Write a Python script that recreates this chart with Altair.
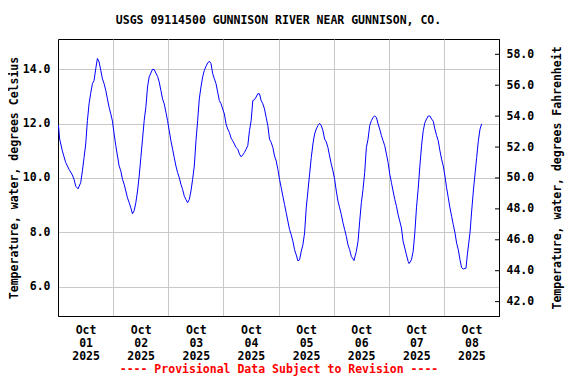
import altair as alt
import pandas as pd

TITLE = "USGS 09114500 GUNNISON RIVER NEAR GUNNISON, CO."
FOOT = "---- Provisional Data Subject to Revision ----"
Y_TITLE_C = "Temperature, water, degrees Celsius"
Y_TITLE_F = "Temperature, water, degrees Fahrenheit"

# hours since 2025-10-01 00:00 (local)
hours = [
    0.2, 0.73, 1.89, 3.34, 4.8, 6.25, 6.98, 7.71, 8.73, 9.89, 10.62, 11.34, 12.07, 12.8, 13.53, 14.25,
    14.98, 15.71, 16.43, 17.16, 17.89, 18.62, 19.34, 20.07, 20.8, 21.52, 22.25, 22.98, 23.71, 24.43,
    25.16, 25.89, 26.62, 27.34, 28.07, 28.8, 29.52, 30.25, 30.98, 31.71, 32.43, 33.16, 33.89, 34.62,
    35.34, 36.07, 36.8, 37.52, 38.25,
    38.98, 39.70, 40.43, 41.16, 41.89, 42.61, 43.34, 44.07, 44.8, 45.52, 46.25, 46.98, 47.7, 48.43,
    49.16, 49.89, 50.61, 51.34, 52.07, 52.8, 53.52, 54.25, 54.98, 55.7, 56.43, 57.16, 57.89, 58.61,
    59.34, 60.07, 60.8, 61.52, 62.25, 62.98, 63.7, 64.43, 65.16, 65.89, 66.61, 67.34, 68.07, 68.8,
    69.52, 70.25, 70.98, 71.7, 72.43, 73.16, 73.89, 74.61, 75.34, 76.07, 76.8, 77.52,
    78.27, 79.0, 79.72, 80.45, 81.18, 81.9, 82.63, 83.36, 84.09, 84.81, 85.54, 86.27, 86.99, 87.72,
    88.45, 89.18, 89.9, 90.63, 91.36, 92.08, 92.81, 93.54, 94.27, 94.99, 95.72, 96.45, 97.18, 97.9,
    98.63, 99.36, 100.08, 100.81, 101.54, 102.27, 102.99, 103.72, 104.45, 105.18, 105.9, 106.63,
    107.36, 108.08, 108.81, 109.54, 110.27, 110.99, 111.72, 112.45, 113.18, 113.9, 114.63, 115.36,
    116.08, 116.8,
    117.53, 118.25, 118.98, 119.71, 120.44, 121.16, 121.89, 122.62, 123.35, 124.07, 124.8, 125.53,
    126.25, 126.98, 127.71, 128.44, 128.87, 129.89, 130.62, 131.35, 132.07, 132.8, 133.53, 134.25,
    134.98, 135.71, 136.44, 137.16, 137.89, 138.62, 139.35, 140.07, 140.8, 141.53, 142.25, 142.98,
    143.71, 144.44, 145.16, 145.89, 146.62, 147.35, 148.07, 148.8, 149.53, 150.25, 150.98, 151.71,
    152.44, 152.87, 153.89, 154.62, 155.35, 156.07, 156.8,
    157.55, 158.28, 159.01, 159.74, 160.46, 161.19, 161.92, 162.65, 163.37, 164.1, 164.83, 165.55,
    166.28, 167.01, 167.74, 168.46, 169.19, 169.92, 170.65, 171.37, 172.1, 172.83, 173.55, 174.28,
    175.01, 175.74, 176.46, 177.63, 178.21, 179.37, 180.1, 180.83, 181.55, 182.28, 183.01, 183.74,
    184.46,
]

temp_c = [
    11.95, 11.43, 11.0, 10.57, 10.32, 10.11, 9.95, 9.70, 9.60, 9.83, 10.26, 10.75, 11.25, 12.11, 12.73, 13.12,
    13.47, 13.59, 14.02, 14.40, 14.27, 13.96, 13.65, 13.47, 13.22, 12.91, 12.60, 12.36, 12.09, 11.62,
    11.19, 10.81, 10.44, 10.26, 9.95, 9.77, 9.52, 9.27, 9.09, 8.90, 8.68, 8.80, 9.09, 9.52,
    10.07, 10.75, 11.43, 12.11, 12.60,
    13.35, 13.72, 13.86, 14.0, 13.99, 13.86, 13.74, 13.53, 13.22, 12.91, 12.73, 12.42, 12.11, 11.74,
    11.37, 11.06, 10.75, 10.44, 10.20, 10.01, 9.77, 9.58, 9.33, 9.21, 9.09, 9.21, 9.52, 9.95,
    10.44, 11.37, 12.11, 12.91, 13.35, 13.72, 13.96, 14.11, 14.23, 14.30, 14.21, 13.84, 13.65, 13.47,
    13.16, 12.85, 12.73, 12.54, 12.36, 11.99, 11.80, 11.68, 11.47, 11.37, 11.25, 11.12,
    11.06, 10.88, 10.78, 10.85, 10.94, 11.06, 11.19, 11.74, 12.11, 12.85, 12.88, 12.98, 13.10, 13.10,
    12.85, 12.73, 12.54, 12.23, 11.93, 11.43, 11.31, 11.12, 10.81, 10.63, 10.32, 9.95, 9.64, 9.33,
    9.02, 8.72, 8.41, 8.10, 7.91, 7.67, 7.36, 7.17, 6.95, 6.99, 7.30, 7.54,
    7.98, 8.90, 9.52, 10.14, 10.75, 11.25, 11.62, 11.80, 11.93, 12.01, 11.93, 11.74,
    11.43, 11.33,
    11.12, 10.81, 10.51, 10.26, 9.95, 9.52, 9.15, 8.90, 8.65, 8.35, 8.10, 7.85,
    7.54, 7.36, 7.11, 7.02, 6.96, 7.30, 7.67, 8.41, 9.09, 9.58, 10.20, 11.12,
    11.43, 11.93, 12.11, 12.23, 12.28, 12.23, 11.99, 11.80, 11.56, 11.37, 11.19, 10.88,
    10.57, 10.14, 9.83, 9.52, 9.21, 8.96, 8.65, 8.41, 8.16, 7.67, 7.42, 7.17,
    6.93, 6.85, 6.99, 7.30, 7.98, 8.90, 9.58,
    10.44, 11.19, 11.74, 12.04, 12.17, 12.28, 12.28, 12.17, 12.09, 11.80, 11.56, 11.37,
    11.0, 10.69, 10.44, 10.07, 9.64, 9.27, 8.90, 8.59, 8.28, 7.98, 7.60, 7.36,
    6.99, 6.70, 6.65, 6.68, 7.17, 7.98, 8.78, 9.52, 10.14, 10.75, 11.37, 11.80,
    11.99,
]

c_ticks = [6, 8, 10, 12, 14]
f_ticks = [42, 44, 46, 48, 50, 52, 54, 56, 58]
c_domain = [4.92, 15.115]
f_domain = [41.07, 58.99]
day_ticks = [1, 2, 3, 4, 5, 6, 7, 8]

W, H = 441, 277
FONT = "DejaVu Sans Mono"
FS = 11.5

df = pd.DataFrame({
    "time": pd.Timestamp("2025-10-01") + pd.to_timedelta(hours, unit="h"),
    "temp_c": temp_c,
})
df_f = pd.DataFrame({"f": f_ticks})

x_enc = alt.X(
    "time:T",
    scale=alt.Scale(domain=[alt.DateTime(year=2025, month=10, date=1),
                            alt.DateTime(year=2025, month=10, date=9)]),
    axis=alt.Axis(
        values=[alt.DateTime(year=2025, month=10, date=d) for d in day_ticks],
        labelExpr="[timeFormat(datum.value, '%b'), timeFormat(datum.value, '%d'), timeFormat(datum.value, '%Y')]",
        labelOffset=W / 16,
        labelFlush=False,
        labelOverlap=False,
        labelLineHeight=13,
        labelPadding=8,
        labelBaseline="top",
        grid=True,
        ticks=False,
        title=FOOT,
        titleColor="#ff0000",
        titlePadding=2,
    ),
)

line = alt.Chart(df).mark_line(color="#0000ff", strokeWidth=1).encode(
    x=x_enc,
    y=alt.Y(
        "temp_c:Q",
        scale=alt.Scale(domain=c_domain, nice=False, zero=False),
        axis=alt.Axis(
            values=c_ticks, format=".1f", grid=True, ticks=False,
            labelPadding=8, title=Y_TITLE_C, titlePadding=3,
        ),
    ),
)

fticks = alt.Chart(df_f).mark_rule(color="black", strokeWidth=1).encode(
    x=alt.value(W - 4),
    x2=alt.value(W),
    y=alt.Y(
        "f:Q",
        scale=alt.Scale(domain=f_domain, nice=False, zero=False),
        axis=alt.Axis(
            orient="right", values=f_ticks, format=".1f", grid=False, ticks=False,
            labelPadding=7, title=Y_TITLE_F, titleAngle=270, titlePadding=29,
        ),
    ),
)

chart = alt.layer(line, fticks).resolve_scale(y="independent").properties(
    width=W,
    height=H,
    title=alt.TitleParams(TITLE, font=FONT, fontSize=FS, fontWeight="bold",
                          anchor="middle", frame="group", offset=13, color="black"),
    autosize=alt.AutoSizeParams(type="none"),
    padding={"left": 50, "top": 31, "right": 69, "bottom": 60},
).configure_view(
    stroke="black", strokeWidth=1
).configure_axis(
    labelFont=FONT, labelFontSize=FS, labelFontWeight="bold", labelColor="black",
    titleFont=FONT, titleFontSize=FS, titleFontWeight="bold",
    gridColor="#c8c8c8", gridWidth=1, gridOpacity=1,
    domainColor="black", domainWidth=1,
)

chart.save("out.html", embed_options={"renderer": "svg", "actions": False})
